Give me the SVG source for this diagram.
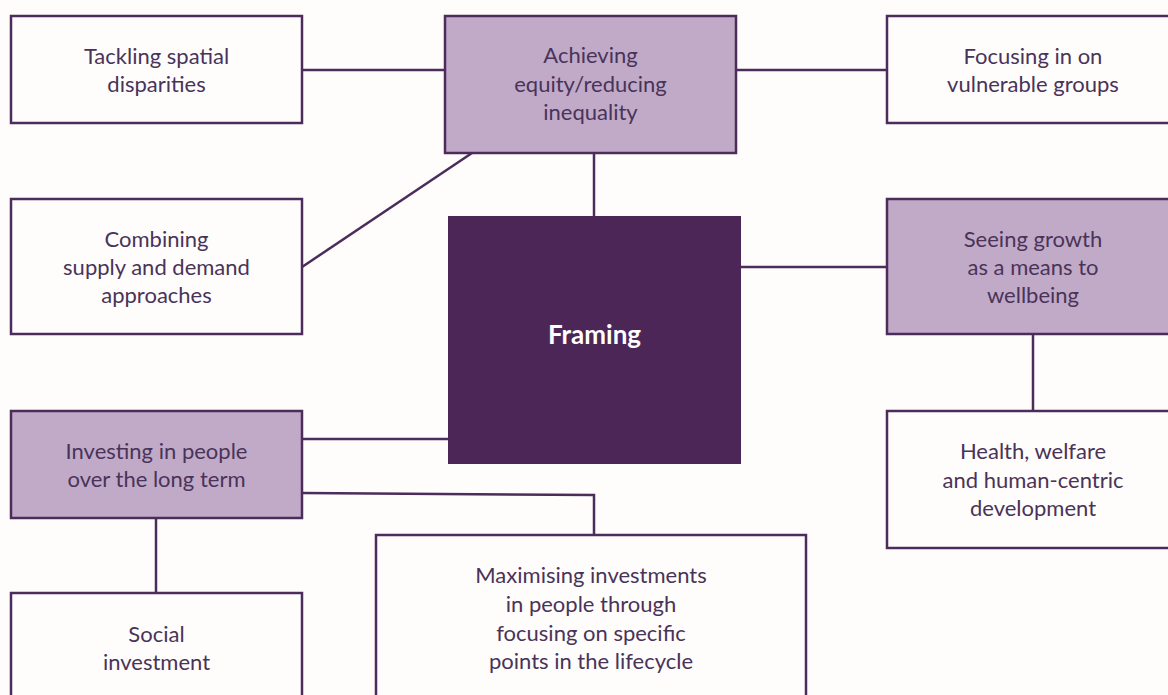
<svg xmlns="http://www.w3.org/2000/svg" width="1168" height="695" viewBox="0 0 1168 695">
<style>
.box{fill:#fefdfc;stroke:#4b2c5a;stroke-width:2.5}
.hl{fill:#c0aac8;stroke:#4b2c5a;stroke-width:2.5}
.main{fill:#4b2657}
.t{font-family:Lato,"Open Sans",sans-serif;font-size:22px;fill:#4a3358;text-anchor:middle}
.tb{font-family:Lato,"Open Sans",sans-serif;font-size:26px;font-weight:bold;fill:#ffffff;text-anchor:middle}
.c{stroke:#4b2c5a;stroke-width:2.5;fill:none}
</style>
<rect width="1168" height="695" fill="#fefdfc"/>
<g id="connectors">
<line class="c" x1="302" y1="70" x2="445" y2="70"/>
<line class="c" x1="736" y1="70" x2="887" y2="70"/>
<line class="c" x1="594" y1="153" x2="594" y2="216"/>
<line class="c" x1="302" y1="267" x2="472" y2="153"/>
<line class="c" x1="741" y1="267" x2="887" y2="267"/>
<line class="c" x1="1033" y1="334" x2="1033" y2="411"/>
<line class="c" x1="302" y1="439" x2="448" y2="439"/>
<polyline class="c" points="302,493 594,495 594,535"/>
<line class="c" x1="156" y1="518" x2="156" y2="593"/>
</g>
<g id="tackling">
<rect class="box" x="11" y="16" width="291" height="107"/>
<text class="t" x="156.5" y="64">Tackling spatial</text>
<text class="t" x="156.5" y="92">disparities</text>
</g>
<g id="achieving">
<rect class="hl" x="445" y="16" width="291" height="137"/>
<text class="t" x="590.5" y="63">Achieving</text>
<text class="t" x="590.5" y="92">equity/reducing</text>
<text class="t" x="590.5" y="120">inequality</text>
</g>
<g id="focusing">
<rect class="box" x="887" y="16" width="292" height="107"/>
<text class="t" x="1033" y="64">Focusing in on</text>
<text class="t" x="1033" y="92">vulnerable groups</text>
</g>
<g id="combining">
<rect class="box" x="11" y="199" width="291" height="135"/>
<text class="t" x="156.5" y="247">Combining</text>
<text class="t" x="156.5" y="275">supply and demand</text>
<text class="t" x="156.5" y="303">approaches</text>
</g>
<g id="framing">
<rect class="main" x="448" y="216" width="293" height="248"/>
<text class="tb" x="594.5" y="344">Framing</text>
</g>
<g id="seeing">
<rect class="hl" x="887" y="199" width="292" height="135"/>
<text class="t" x="1033" y="247">Seeing growth</text>
<text class="t" x="1033" y="275">as a means to</text>
<text class="t" x="1033" y="303">wellbeing</text>
</g>
<g id="investing">
<rect class="hl" x="11" y="411" width="291" height="107"/>
<text class="t" x="156.5" y="459">Investing in people</text>
<text class="t" x="156.5" y="487">over the long term</text>
</g>
<g id="health">
<rect class="box" x="887" y="411" width="292" height="137"/>
<text class="t" x="1033" y="459">Health, welfare</text>
<text class="t" x="1033" y="488">and human-centric</text>
<text class="t" x="1033" y="516">development</text>
</g>
<g id="social">
<rect class="box" x="11" y="593" width="291" height="120"/>
<text class="t" x="156.5" y="642">Social</text>
<text class="t" x="156.5" y="670">investment</text>
</g>
<g id="maximising">
<rect class="box" x="376" y="535" width="430" height="180"/>
<text class="t" x="591" y="583">Maximising investments</text>
<text class="t" x="591" y="612">in people through</text>
<text class="t" x="591" y="641">focusing on specific</text>
<text class="t" x="591" y="669">points in the lifecycle</text>
</g>
</svg>
